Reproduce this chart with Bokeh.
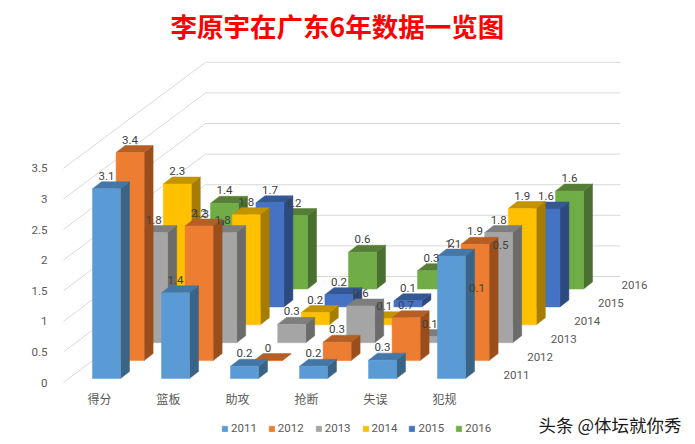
from bokeh.plotting import figure
from bokeh.models import Legend, LegendItem, FixedTicker, Range1d
from bokeh.core.properties import value
from bokeh.embed import file_html
from bokeh.resources import INLINE

categories = ["得分", "篮板", "助攻", "抢断", "失误", "犯规"]
years = ["2011", "2012", "2013", "2014", "2015", "2016"]
v2011 = [3.1, 1.4, 0.2, 0.2, 0.3, 2.0]
v2012 = [3.4, 2.2, 0.0, 0.3, 0.7, 1.9]
v2013 = [1.8, 1.8, 0.3, 0.6, 0.1, 1.8]
v2014 = [2.3, 1.8, 0.2, 0.1, 1.1, 1.9]
v2015 = [1.3, 1.7, 0.2, 0.1, 0.1, 1.6]
v2016 = [1.4, 1.2, 0.6, 0.3, 0.5, 1.6]
series = [v2011, v2012, v2013, v2014, v2015, v2016]
value_ticks = [0, 0.5, 1, 1.5, 2, 2.5, 3, 3.5]
front = ["#5B9BD5", "#ED7D31", "#A5A5A5", "#FFC000", "#4472C4", "#70AD47"]
side = ["#3A6485", "#9A4E1C", "#6B6B6B", "#A67D00", "#2C4A80", "#49702E"]
top = ["#4577A6", "#B55F24", "#7E7E7E", "#C39300", "#345896", "#567E36"]
TEXT = "#595959"
CJK = "Noto Sans CJK SC"
LATIN = "Roboto"

# pixel scale of the oblique projection
PX_U = 69.0     # px per category
PX_V = 61.2     # px per value unit
FRAME_L, FRAME_R, FRAME_T, FRAME_B = 58, 687, 50, 436
X0, Y0 = 99, 382   # page pixel of category 0 label / value 0 label


def du(px):
    return px / PX_U


def dv(px):
    return px / PX_V


p = figure(width=687, height=440, output_backend="svg", toolbar_location=None,
           margin=(-4, 0, 0, 0),
           x_range=Range1d(du(FRAME_L - X0), du(FRAME_R - X0)),
           y_range=Range1d(dv(Y0 - FRAME_B), dv(Y0 - FRAME_T)),
           min_border_left=58, min_border_right=0, min_border_top=54, min_border_bottom=0,
           background_fill_color="white", border_fill_color="white")
p.outline_line_color = None
p.grid.visible = False

p.title.text = "李原宇在广东6年数据一览图"
p.title.text_color = "#FF0000"
p.title.text_font = CJK
p.title.text_font_size = "26.5px"
p.title.text_font_style = "bold"
p.title.align = "left"
p.title.offset = 112
p.title.standoff = 12

p.yaxis.ticker = FixedTicker(ticks=value_ticks)
p.yaxis.major_label_overrides = {t: f"{t:g}" for t in value_ticks}
p.xaxis.ticker = FixedTicker(ticks=list(range(len(categories))))
p.xaxis.major_label_overrides = {i: c for i, c in enumerate(categories)}
p.xaxis.fixed_location = dv(Y0 - 379)
for ax, font, size in ((p.xaxis, CJK, "12px"), (p.yaxis, LATIN, "11.5px")):
    ax.axis_line_color = None
    ax.major_tick_line_color = None
    ax.minor_tick_line_color = None
    ax.major_label_text_color = TEXT
    ax.major_label_text_font = font
    ax.major_label_text_font_size = size
p.xaxis.major_label_standoff = 4
p.yaxis.major_label_standoff = 5

# walls: gridlines run from the value axis back, then along the rear wall
gx, gy = [], []
for t in value_ticks:
    gx.append([du(63 - X0), du(205 - X0), du(620 - X0)])
    gy.append([t, t + dv(106), t + dv(106)])
p.multi_line(gx, gy, line_color="#D9D9D9", line_width=1)

items = {}
base0 = dv(4)
step_u, step_v = du(23.6), dv(17.9)
left0 = du(92 - X0)
w, sd_u, sd_v = du(28), du(9), dv(7)
lx, ly, lt = [], [], []
for s in range(len(series) - 1, -1, -1):
    vals = series[s]
    fx, fy, sx, sy, tx, ty = [], [], [], [], [], []
    for c, v in enumerate(vals):
        l = left0 + c + s * step_u
        r = l + w
        b = base0 + s * step_v
        h = b + v
        fx.append([l, r, r, l]); fy.append([b, b, h, h])
        sx.append([r, r + sd_u, r + sd_u, r]); sy.append([b, b + sd_v, h + sd_v, h])
        tx.append([l, r, r + sd_u, l + sd_u]); ty.append([h, h, h + sd_v, h + sd_v])
        lx.append(l + w / 2); ly.append(h + dv(13)); lt.append(f"{v:g}")
    p.patches(sx, sy, fill_color=side[s], line_color=side[s], line_width=0.5)
    p.patches(tx, ty, fill_color=top[s], line_color=top[s], line_width=0.5)
    items[s] = p.patches(fx, fy, fill_color=front[s], line_color=front[s], line_width=0.5)

p.text(lx, ly, text=lt, text_color="#404040", text_font=value(LATIN), text_font_size="11.5px",
       text_align="center", text_baseline="middle")

# depth axis labels
p.text([du(516 - X0) + i * step_u for i in range(len(years))],
       [dv(Y0 - 374) + i * step_v for i in range(len(years))],
       text=years, text_color=TEXT, text_font=value(LATIN), text_font_size="11.5px",
       text_align="center", text_baseline="middle")

# watermark
p.text([du(538 - X0)], [dv(Y0 - 424)], text=["头条 @体坛就你秀"], text_color="#1A1A1A",
       text_font=value(CJK), text_font_size="17.5px", text_baseline="middle")

legend = Legend(items=[LegendItem(label=y, renderers=[items[i]]) for i, y in enumerate(years)],
                orientation="horizontal", location=(163, 1),
                glyph_width=7, glyph_height=7, label_standoff=3, spacing=11, padding=0, margin=0,
                border_line_color=None, background_fill_alpha=0,
                label_text_font=LATIN, label_text_font_size="11.5px", label_text_color=TEXT)
p.add_layout(legend)

open("out.html", "w").write(file_html(p, INLINE))
